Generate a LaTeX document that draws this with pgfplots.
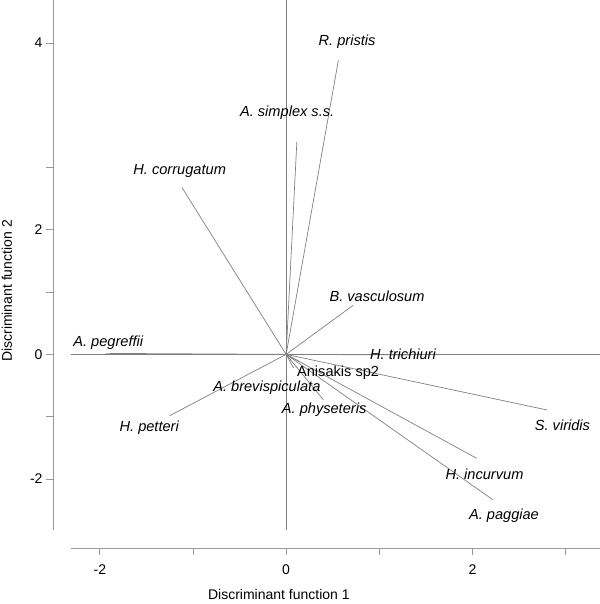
\documentclass[border=0pt]{standalone}
\usepackage{fontspec}
\setmainfont{Liberation Sans}
\usepackage{pgfplots}
\pgfplotsset{compat=1.18}
\definecolor{axgray}{gray}{0.6}
\definecolor{lngray}{gray}{0.5}
\newcommand{\lab}{\fontsize{14}{16}\selectfont}
\newcommand{\spfont}{\fontsize{14.6}{16}\selectfont\itshape}
\begin{document}
\begin{tikzpicture}
\begin{axis}[
  name=ax,
  scale only axis, width=529pt, height=530pt,
  xmin=-2.31, xmax=3.37, ymin=-2.82, ymax=4.345,
  y coord trafo/.code={\pgfmathparse{(#1>3)*(3+2*(#1-3))+(#1<=3)*(#1)}},
  axis x line*=bottom, axis y line*=left,
  axis x line shift=18pt, axis y line shift=18pt,
  axis line style={draw=axgray, line width=0.8pt, -},
  tick align=outside,
  xtick={-2,0,2}, xticklabels={-2,0,2}, minor xtick={-1,1,3},
  ytick={-2,0,2,4}, yticklabels={-2,0,2,4}, minor ytick={-1,1,3},
  major tick length=7pt, minor tick length=7pt,
  every tick/.style={draw=axgray, line width=0.8pt},
  every minor tick/.style={draw=axgray, line width=0.8pt},
  ticklabel style={font=\lab},
  xticklabel style={yshift=-6pt},
  /pgf/number format/assume math mode=true,
  clip=false,
  xlabel={Discriminant function 1},
  ylabel={Discriminant function 2},
  every axis x label/.style={at={(axis description cs:0.393,-0.121)}, anchor=center, font=\lab},
  every axis y label/.style={at={(axis description cs:-0.121,0.451)}, anchor=center, rotate=90, font=\lab},
  vec/.style={lngray, line width=0.7pt, mark=none, solid},
]
% cross lines through the origin
\draw[lngray, line width=0.7pt] (axis cs:0,-2.82) -- (axis cs:0,4.345);
\draw[lngray, line width=0.7pt] (axis cs:-2.31,0) -- (axis cs:3.37,0);
% vectors
\addplot[vec] coordinates {(0,0) (0.561,3.862)};   % R. pristis
\addplot[vec] coordinates {(0,0) (0.115,3.206)};   % A. simplex s.s.
\addplot[vec] coordinates {(0,0) (-1.119,2.680)};  % H. corrugatum
\addplot[vec] coordinates {(0,0) (0.722,0.791)};   % B. vasculosum
\addplot[vec] coordinates {(0,0) (-1.940,0.016)};  % A. pegreffii
\addplot[vec] coordinates {(0,0) (1.330,-0.010)};  % H. trichiuri
\addplot[vec] coordinates {(0,0) (0.150,-0.120)};  % Anisakis sp2
\addplot[vec] coordinates {(0,0) (0.080,-0.220)};  % A. brevispiculata
\addplot[vec] coordinates {(0,0) (0.400,-0.730)};  % A. physeteris
\addplot[vec] coordinates {(0,0) (-1.252,-0.986)}; % H. petteri
\addplot[vec] coordinates {(0,0) (2.805,-0.894)};  % S. viridis
\addplot[vec] coordinates {(0,0) (2.046,-1.669)};  % H. incurvum
\addplot[vec] coordinates {(0,0) (2.224,-2.339)};  % A. paggiae
% labels
\node[font=\spfont] at (axis cs:0.654,4.006) {R. pristis};
\node[font=\spfont] at (axis cs:0.011,3.437) {A. simplex s.s.};
\node[font=\spfont] at (axis cs:-1.143,2.942) {H. corrugatum};
\node[font=\spfont] at (axis cs:0.976,0.936) {B. vasculosum};
\node[font=\spfont] at (axis cs:-1.910,0.181) {A. pegreffii};
\node[font=\spfont] at (axis cs:1.255,0.000) {H. trichiuri};
\node[font=\fontsize{14.6}{16}\selectfont] at (axis cs:0.558,-0.295) {Anisakis sp2};
\node[font=\spfont] at (axis cs:-0.207,-0.530) {A. brevispiculata};
\node[font=\spfont] at (axis cs:0.408,-0.894) {A. physeteris};
\node[font=\spfont] at (axis cs:-1.470,-1.183) {H. petteri};
\node[font=\spfont] at (axis cs:2.967,-1.135) {S. viridis};
\node[font=\spfont] at (axis cs:2.130,-1.921) {H. incurvum};
\node[font=\spfont] at (axis cs:2.339,-2.596) {A. paggiae};
\end{axis}
\pgfresetboundingbox
\path[use as bounding box] ([xshift=-71pt,yshift=-74pt]ax.south west) rectangle (ax.north east);
\end{tikzpicture}
\end{document}
